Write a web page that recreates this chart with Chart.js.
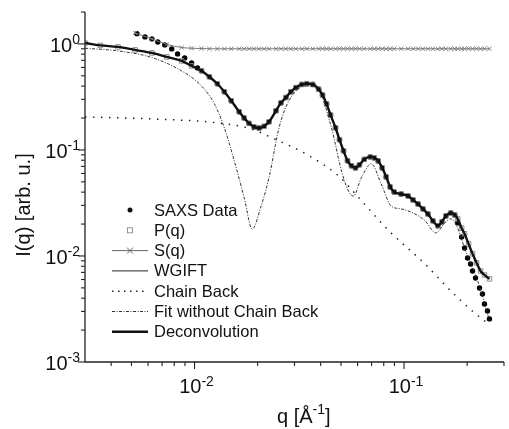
<!DOCTYPE html>
<html>
<head>
<meta charset="utf-8">
<script src="https://cdn.jsdelivr.net/npm/chart.js@4.4.0/dist/chart.umd.min.js"></script>
<style>
  html, body { margin: 0; padding: 0; background: #fff; }
  canvas { display: block; }
</style>
</head>
<body>
<canvas id="chart" width="509" height="429"></canvas>
<script>
// q grid of the fitted curves (P(q), WGIFT, Deconvolution, S(q))
const qFit = [0.00300, 0.00355, 0.00431, 0.00520, 0.00626, 0.00737, 0.00868, 0.00968, 0.01079, 0.01178,
  0.01285, 0.01388, 0.01497, 0.01634, 0.01726, 0.01822, 0.01925, 0.02032, 0.02147, 0.02266,
  0.02447, 0.02584, 0.02729, 0.02882, 0.03044, 0.03250, 0.03434, 0.03667, 0.03912, 0.04083,
  0.04268, 0.04457, 0.04709, 0.04920, 0.05141, 0.05371, 0.05612, 0.05864, 0.06126, 0.06459,
  0.06901, 0.07211, 0.07534, 0.07870, 0.08219, 0.08591, 0.08975, 0.09684, 0.1045, 0.1104,
  0.1166, 0.1231, 0.1300, 0.1372, 0.1449, 0.1514, 0.1582, 0.1671, 0.1745, 0.1803,
  0.1883, 0.1945, 0.2032, 0.2123, 0.2218, 0.2318, 0.2421, 0.2557];

const deconvolution = [1.02, 0.968, 0.937, 0.878, 0.822, 0.754, 0.691, 0.620, 0.559, 0.489,
  0.421, 0.354, 0.291, 0.229, 0.200, 0.178, 0.165, 0.161, 0.167, 0.184,
  0.234, 0.278, 0.312, 0.354, 0.387, 0.415, 0.422, 0.415, 0.374, 0.330,
  0.272, 0.214, 0.162, 0.125, 0.0982, 0.0792, 0.0709, 0.0677, 0.0724, 0.0815,
  0.0860, 0.0841, 0.0787, 0.0677, 0.0557, 0.0447, 0.0401, 0.0384, 0.0368, 0.0338,
  0.0309, 0.0278, 0.0249, 0.0215, 0.0193, 0.0209, 0.0238, 0.0254, 0.0244, 0.0224,
  0.0183, 0.0162, 0.0130, 0.0105, 0.00862, 0.00722, 0.00662, 0.00608];

const pq = deconvolution.slice();
const wgift = deconvolution.slice();

const sq = [null, null, null, 1.27, 1.115, 0.99, 0.925, 0.91, 0.905, 0.90,
  0.90, 0.90, 0.90, 0.90, 0.90, 0.90, 0.90, 0.90, 0.90, 0.90,
  0.90, 0.90, 0.90, 0.90, 0.90, 0.90, 0.90, 0.90, 0.90, 0.90,
  0.90, 0.90, 0.90, 0.90, 0.90, 0.90, 0.90, 0.90, 0.90, 0.90,
  0.90, 0.90, 0.90, 0.90, 0.90, 0.90, 0.90, 0.90, 0.90, 0.90,
  0.90, 0.90, 0.90, 0.90, 0.90, 0.90, 0.90, 0.90, 0.90, 0.90,
  0.90, 0.90, 0.90, 0.90, 0.90, 0.90, 0.90, 0.90];

// measured SAXS data
const qSaxs = [0.00531, 0.00580, 0.00626, 0.00668, 0.00721, 0.00778, 0.00830, 0.00897, 0.00968, 0.01033,
  0.01079, 0.01178, 0.01285, 0.01388, 0.01497, 0.01634, 0.01726, 0.01822, 0.01925, 0.02032,
  0.02147, 0.02266, 0.02447, 0.02584, 0.02729, 0.02882, 0.03044, 0.03250, 0.03434, 0.03667,
  0.03912, 0.04083, 0.04268, 0.04457, 0.04709, 0.04920, 0.05141, 0.05371, 0.05612, 0.05864,
  0.06126, 0.06459, 0.06901, 0.07211, 0.07534, 0.07870, 0.08219, 0.08591, 0.08975, 0.09684,
  0.1045, 0.1104, 0.1166, 0.1231, 0.1300, 0.1372, 0.1449, 0.1514, 0.1582, 0.1671,
  0.1745, 0.1803, 0.1883, 0.1945, 0.2011, 0.2078, 0.2123, 0.2194, 0.2292, 0.2367,
  0.2421, 0.2502, 0.2557];
const saxs = [1.25, 1.164, 1.115, 1.044, 0.979, 0.897, 0.805, 0.738, 0.662, 0.594,
  0.559, 0.489, 0.421, 0.354, 0.291, 0.229, 0.200, 0.178, 0.165, 0.161,
  0.167, 0.184, 0.234, 0.278, 0.312, 0.354, 0.387, 0.415, 0.422, 0.415,
  0.374, 0.330, 0.272, 0.214, 0.162, 0.125, 0.0982, 0.0792, 0.0709, 0.0677,
  0.0724, 0.0815, 0.0860, 0.0841, 0.0787, 0.0677, 0.0557, 0.0447, 0.0401, 0.0384,
  0.0368, 0.0338, 0.0309, 0.0278, 0.0249, 0.0215, 0.0193, 0.0209, 0.0238, 0.0254,
  0.0244, 0.0205, 0.0151, 0.0119, 0.00957, 0.00841, 0.00722, 0.00620, 0.00499, 0.00438,
  0.00352, 0.00303, 0.00255];

// chain background
const qChain = [0.0030, 0.00626, 0.01285, 0.01862, 0.02344, 0.03397, 0.04864, 0.0586, 0.0713, 0.0867,
  0.1259, 0.1671, 0.2170, 0.2502];
const chainBack = [0.205, 0.196, 0.180, 0.158, 0.130, 0.0917, 0.0569, 0.0385, 0.0249, 0.0165,
  0.0084, 0.00468, 0.0029, 0.00233];

// fit without chain background
const qNoChain = [0.00300, 0.00431, 0.00626, 0.00868, 0.01079, 0.01244, 0.01388, 0.01548, 0.01726, 0.01884,
  0.02079, 0.02266, 0.02529, 0.02820, 0.03397, 0.03912, 0.04508, 0.05026, 0.05430, 0.05732,
  0.06252, 0.06977, 0.07780, 0.08676, 0.09684, 0.1128, 0.1259, 0.1420, 0.1565, 0.1671,
  0.1803, 0.1945, 0.2244, 0.2559];
const noChain = [0.911, 0.859, 0.743, 0.556, 0.402, 0.272, 0.161, 0.0788, 0.0354, 0.0180,
  0.0296, 0.0546, 0.161, 0.290, 0.402, 0.360, 0.161, 0.0636, 0.0410, 0.0367,
  0.0546, 0.0740, 0.0478, 0.0296, 0.0278, 0.0249, 0.0215, 0.0165, 0.0205, 0.0224,
  0.0183, 0.0118, 0.00584, 0.00245];

const legendNames = ['SAXS Data', 'P(q)', 'S(q)', 'WGIFT', 'Chain Back', 'Fit without Chain Back', 'Deconvolution'];
const yTicks = [1, 0.1, 0.01, 0.001];
const yTickExp = ['0', '-1', '-2', '-3'];
const xTicks = [0.01, 0.1];
const xTickExp = ['-2', '-1'];

const FONT = '"Liberation Sans", Arial, sans-serif';

function pts(xs, ys) {
  return xs.map((x, i) => ({ x: x, y: ys[i] })).filter(p => p.y !== null);
}

// axes, ticks, labels and legend drawn by hand
const decorPlugin = {
  id: 'decor',
  afterDraw(chart) {
    const ctx = chart.ctx;
    const xs = chart.scales.x, ys = chart.scales.y;
    const a = chart.chartArea;
    ctx.save();
    ctx.strokeStyle = '#222';
    ctx.fillStyle = '#111';
    ctx.lineWidth = 1.3;
    ctx.beginPath();
    ctx.moveTo(a.left, a.top);
    ctx.lineTo(a.left, a.bottom);
    ctx.lineTo(a.right, a.bottom);
    ctx.stroke();

    // y ticks
    ctx.lineWidth = 1.1;
    for (let e = -3; e <= 0; e++) {
      for (let m = 1; m <= 9; m++) {
        const v = m * Math.pow(10, e);
        if (v > 2.0001) break;
        const y = ys.getPixelForValue(v);
        const len = m === 1 ? 7 : 4;
        ctx.beginPath();
        ctx.moveTo(a.left - len, y);
        ctx.lineTo(a.left, y);
        ctx.stroke();
      }
    }
    // x ticks
    for (let e = -3; e <= -1; e++) {
      for (let m = 1; m <= 9; m++) {
        const v = m * Math.pow(10, e);
        if (v < 0.0035 || v > 0.3001) continue;
        const x = xs.getPixelForValue(v);
        const len = m === 1 ? 7 : 4;
        ctx.beginPath();
        ctx.moveTo(x, a.bottom);
        ctx.lineTo(x, a.bottom + len);
        ctx.stroke();
      }
    }

    // tick labels 10^n
    const baseFont = '20px ' + FONT, supFont = '14px ' + FONT;
    ctx.textBaseline = 'alphabetic';
    ctx.textAlign = 'left';
    yTicks.forEach((v, i) => {
      const y = ys.getPixelForValue(v);
      ctx.font = baseFont;
      const wb = ctx.measureText('10').width;
      ctx.font = supFont;
      const ws = ctx.measureText(yTickExp[i]).width;
      const x0 = 80 - wb - ws;
      ctx.font = baseFont;
      ctx.fillText('10', x0, y + 8);
      ctx.font = supFont;
      ctx.fillText(yTickExp[i], x0 + wb, y);
    });
    xTicks.forEach((v, i) => {
      const x = xs.getPixelForValue(v);
      ctx.font = baseFont;
      const wb = ctx.measureText('10').width;
      ctx.font = supFont;
      const ws = ctx.measureText(xTickExp[i]).width;
      const x0 = x + 2 - (wb + ws) / 2;
      ctx.font = baseFont;
      ctx.fillText('10', x0, a.bottom + 31);
      ctx.font = supFont;
      ctx.fillText(xTickExp[i], x0 + wb, a.bottom + 24);
    });

    // x title: q [Å^-1]
    ctx.font = baseFont;
    let tx = 277;
    ctx.fillText('q [Å', tx, 423);
    tx += ctx.measureText('q [Å').width;
    ctx.font = supFont;
    ctx.fillText('-1', tx, 414);
    tx += ctx.measureText('-1').width;
    ctx.font = baseFont;
    ctx.fillText(']', tx, 423);

    // y title
    ctx.save();
    ctx.translate(24, 205);
    ctx.rotate(-Math.PI / 2);
    ctx.textAlign = 'center';
    ctx.textBaseline = 'middle';
    ctx.font = baseFont;
    ctx.fillText('I(q) [arb. u.]', 0, 0);
    ctx.restore();

    // legend
    const rowY = i => 210 + i * 20.3;
    const x1 = 112, x2 = 148, xm = 130;
    ctx.font = '16.5px ' + FONT;
    ctx.textAlign = 'left';
    ctx.textBaseline = 'middle';
    legendNames.forEach((name, i) => {
      const y = rowY(i);
      ctx.fillStyle = '#111';
      ctx.fillText(name, 154, y + 1);
      ctx.setLineDash([]);
      if (i === 0) {
        ctx.beginPath();
        ctx.arc(xm, y, 2.5, 0, Math.PI * 2);
        ctx.fill();
      } else if (i === 1) {
        ctx.strokeStyle = '#888';
        ctx.lineWidth = 0.9;
        ctx.strokeRect(xm - 2.5, y - 2.5, 5, 5);
      } else {
        ctx.beginPath();
        if (i === 2) { ctx.strokeStyle = '#666'; ctx.lineWidth = 1; }
        if (i === 3) { ctx.strokeStyle = '#222'; ctx.lineWidth = 1; }
        if (i === 4) { ctx.strokeStyle = '#222'; ctx.lineWidth = 1.5; ctx.setLineDash([1.5, 4.5]); }
        if (i === 5) { ctx.strokeStyle = '#333'; ctx.lineWidth = 1; ctx.setLineDash([3, 1.5, 1, 1.5]); }
        if (i === 6) { ctx.strokeStyle = '#111'; ctx.lineWidth = 2.4; }
        ctx.moveTo(x1, y);
        ctx.lineTo(x2, y);
        ctx.stroke();
        if (i === 2) {
          ctx.setLineDash([]);
          ctx.beginPath();
          ctx.moveTo(xm - 3, y - 3); ctx.lineTo(xm + 3, y + 3);
          ctx.moveTo(xm + 3, y - 3); ctx.lineTo(xm - 3, y + 3);
          ctx.stroke();
        }
      }
    });
    ctx.restore();
  }
};

new Chart(document.getElementById('chart'), {
  type: 'scatter',
  data: {
    datasets: [
      {
        label: 'Deconvolution',
        data: pts(qFit, deconvolution),
        showLine: true, borderColor: '#111', borderWidth: 2.4,
        pointRadius: 0, cubicInterpolationMode: 'monotone', order: 0
      },
      {
        label: 'Fit without Chain Back',
        data: pts(qNoChain, noChain),
        showLine: true, borderColor: '#333', borderWidth: 1, borderDash: [3, 1.5, 1, 1.5],
        pointRadius: 0, cubicInterpolationMode: 'monotone', order: 1
      },
      {
        label: 'Chain Back',
        data: pts(qChain, chainBack),
        showLine: true, borderColor: '#222', borderWidth: 1.5, borderDash: [1.5, 6.5],
        pointRadius: 0, cubicInterpolationMode: 'monotone', order: 2
      },
      {
        label: 'WGIFT',
        data: pts(qFit, wgift),
        showLine: true, borderColor: '#222', borderWidth: 1,
        pointRadius: 0, cubicInterpolationMode: 'monotone', order: 3
      },
      {
        label: 'S(q)',
        data: pts(qFit, sq),
        showLine: true, borderColor: '#777', borderWidth: 1,
        pointStyle: 'crossRot', pointRadius: 3, pointBorderWidth: 0.9,
        pointBorderColor: '#777', cubicInterpolationMode: 'monotone', order: 4
      },
      {
        label: 'P(q)',
        data: pts(qFit, pq),
        showLine: false, pointStyle: 'rect', pointRadius: 3.2,
        pointBorderColor: '#8c8c8c', pointBackgroundColor: 'rgba(255,255,255,0)',
        pointBorderWidth: 1, order: 5
      },
      {
        label: 'SAXS Data',
        data: pts(qSaxs, saxs),
        showLine: false, pointStyle: 'circle', pointRadius: 2.7,
        pointBackgroundColor: '#000', pointBorderColor: '#000', pointBorderWidth: 0, order: 6
      }
    ]
  },
  options: {
    responsive: false,
    animation: false,
    devicePixelRatio: 1,
    layout: { padding: { left: 85, right: 2, top: 12, bottom: 67 } },
    plugins: { legend: { display: false }, tooltip: { enabled: false } },
    scales: {
      x: { type: 'logarithmic', min: 0.003, max: 0.3, display: false },
      y: { type: 'logarithmic', min: 0.001, max: 2, display: false }
    }
  },
  plugins: [decorPlugin]
});
</script>
</body>
</html>
